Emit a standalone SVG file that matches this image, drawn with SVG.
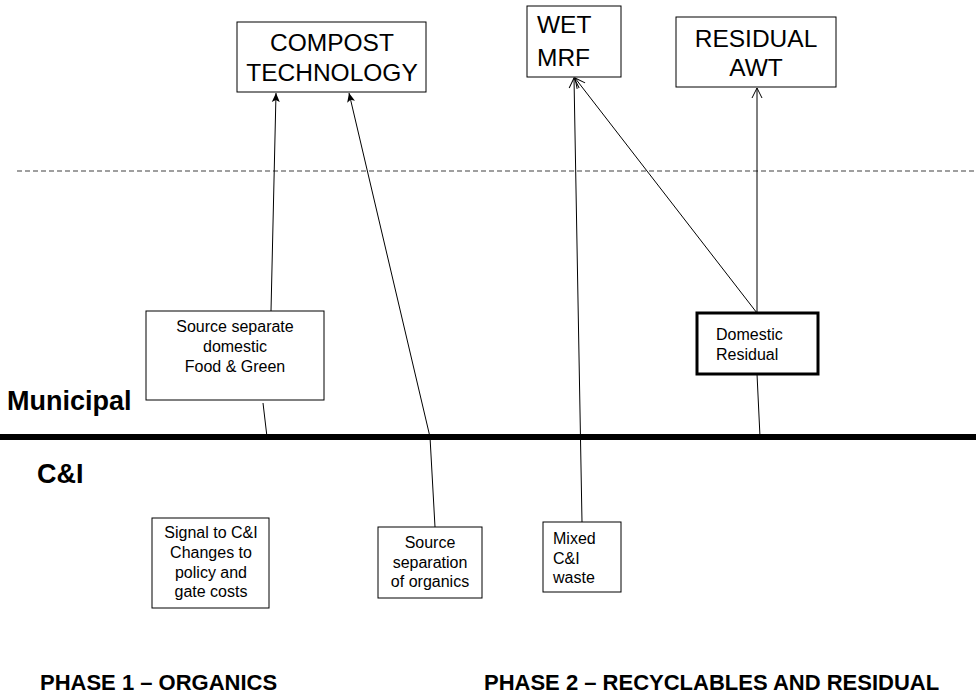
<svg xmlns="http://www.w3.org/2000/svg" width="976" height="694" viewBox="0 0 976 694">
<style>
.box{fill:#fff;stroke:#000;stroke-width:1}
.thick{fill:#fff;stroke:#000;stroke-width:3}
.big{font-family:"Liberation Sans",Arial,sans-serif;font-size:24.5px;fill:#000}
.sm{font-family:"Liberation Sans",Arial,sans-serif;font-size:16px;fill:#000}
.lbl{font-family:"Liberation Sans",Arial,sans-serif;font-size:27px;font-weight:bold;fill:#000}
.ph{font-family:"Liberation Sans",Arial,sans-serif;font-size:22px;font-weight:bold;fill:#000}
.c{stroke:#000;stroke-width:1;fill:none}
</style>
<defs>
<marker id="af" markerWidth="10" markerHeight="10" refX="9" refY="5" orient="auto" markerUnits="userSpaceOnUse">
<path d="M0,1 L9,5 L0,9 L2,5 Z" fill="#000"/>
</marker>
<marker id="ao" markerWidth="12" markerHeight="12" refX="11" refY="6" orient="auto" markerUnits="userSpaceOnUse">
<path d="M1,1 L11,6 L1,11" fill="none" stroke="#000" stroke-width="1"/>
</marker>
</defs>
<rect width="976" height="694" fill="#fff"/>
<line x1="17" y1="171" x2="976" y2="171" stroke="#808080" stroke-width="1.5" stroke-dasharray="5,3"/>
<line x1="0" y1="437" x2="976" y2="437" stroke="#000" stroke-width="6"/>
<text class="lbl" x="7" y="410">Municipal</text>
<text class="lbl" x="37" y="483">C&amp;I</text>
<text class="ph" x="40" y="690">PHASE 1 – ORGANICS</text>
<text class="ph" x="484" y="690">PHASE 2 – RECYCLABLES AND RESIDUAL</text>
<g id="connectors">
<line class="c" x1="271" y1="311" x2="276" y2="93" marker-end="url(#af)"/>
<line class="c" x1="263" y1="403" x2="267" y2="437"/>
<polyline class="c" points="435,527 430,437 349,93" marker-end="url(#af)"/>
<line class="c" x1="582" y1="522" x2="574" y2="78" marker-end="url(#ao)"/>
<line class="c" x1="757" y1="313" x2="575" y2="78" marker-end="url(#ao)"/>
<line class="c" x1="757" y1="313" x2="757" y2="88" marker-end="url(#ao)"/>
<line class="c" x1="757" y1="374" x2="760" y2="437"/>
</g>
<g id="compost">
<rect class="box" x="237" y="22" width="189" height="70"/>
<text class="big" x="332" y="51" text-anchor="middle">COMPOST</text>
<text class="big" x="332" y="81" text-anchor="middle">TECHNOLOGY</text>
</g>
<g id="wetmrf">
<rect class="box" x="527" y="6" width="94" height="71"/>
<text class="big" x="537" y="33">WET</text>
<text class="big" x="537" y="66">MRF</text>
</g>
<g id="residualawt">
<rect class="box" x="676" y="17" width="160" height="70"/>
<text class="big" x="756" y="47" text-anchor="middle">RESIDUAL</text>
<text class="big" x="756" y="76" text-anchor="middle">AWT</text>
</g>
<g id="sourcesep">
<rect class="box" x="146" y="311" width="178" height="89"/>
<text class="sm" x="235" y="332" text-anchor="middle">Source separate</text>
<text class="sm" x="235" y="352" text-anchor="middle">domestic</text>
<text class="sm" x="235" y="372" text-anchor="middle">Food &amp; Green</text>
</g>
<g id="domres">
<rect class="thick" x="697" y="313" width="121" height="61"/>
<text class="sm" x="716" y="340">Domestic</text>
<text class="sm" x="716" y="360">Residual</text>
</g>
<g id="signal">
<rect class="box" x="152" y="518" width="117" height="90"/>
<text class="sm" x="211" y="538" text-anchor="middle">Signal to C&amp;I</text>
<text class="sm" x="211" y="558" text-anchor="middle">Changes to</text>
<text class="sm" x="211" y="578" text-anchor="middle">policy and</text>
<text class="sm" x="211" y="597" text-anchor="middle">gate costs</text>
</g>
<g id="sourceorg">
<rect class="box" x="378" y="527" width="104" height="71"/>
<text class="sm" x="430" y="548" text-anchor="middle">Source</text>
<text class="sm" x="430" y="568" text-anchor="middle">separation</text>
<text class="sm" x="430" y="587" text-anchor="middle">of organics</text>
</g>
<g id="mixed">
<rect class="box" x="543" y="522" width="78" height="70"/>
<text class="sm" x="553" y="544">Mixed</text>
<text class="sm" x="553" y="564">C&amp;I</text>
<text class="sm" x="553" y="583">waste</text>
</g>
</svg>
